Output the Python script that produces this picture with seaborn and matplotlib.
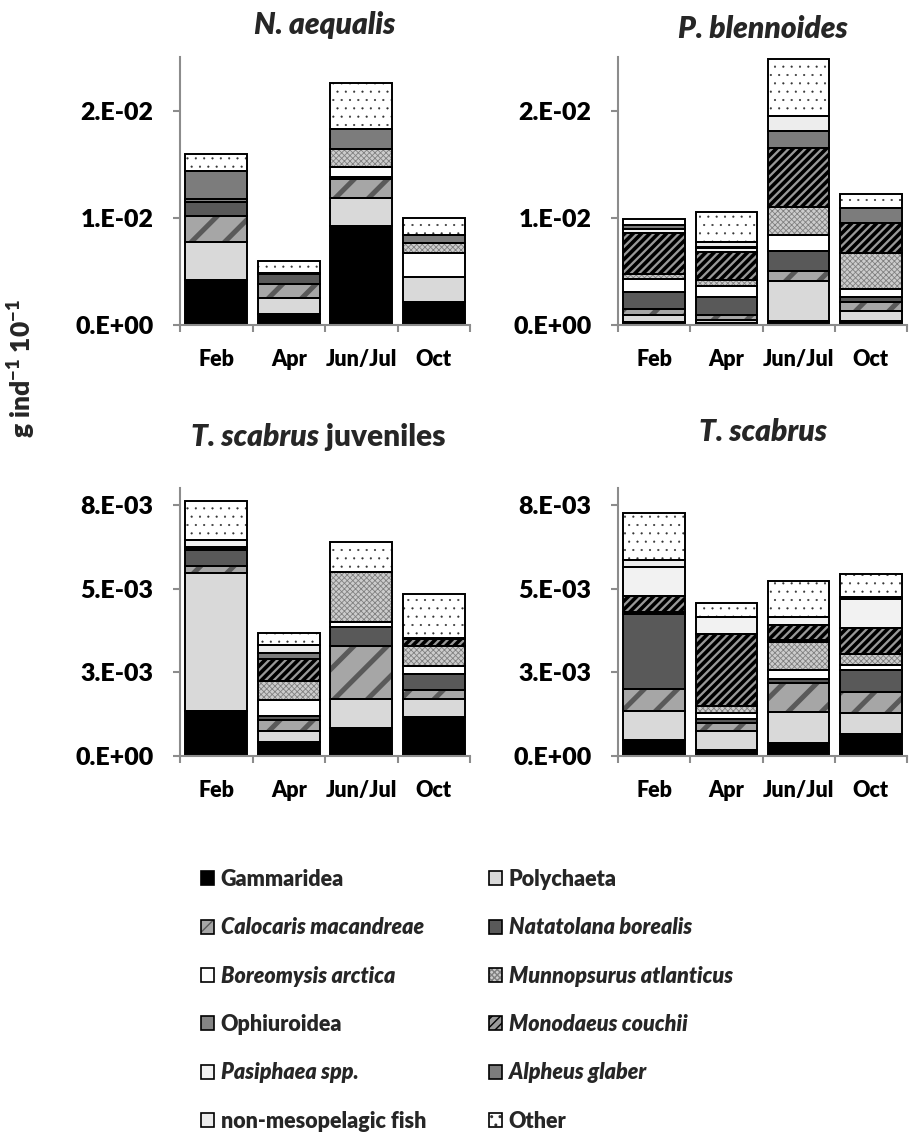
import matplotlib
matplotlib.use("Agg")
import matplotlib.pyplot as plt
import seaborn as sns
from matplotlib.patches import Patch

WEIGHT = "heavy"

sns.set_style("white")
plt.rcParams["font.family"] = ["Lato", "DejaVu Sans"]
plt.rcParams["font.weight"] = WEIGHT
plt.rcParams["mathtext.fontset"] = "custom"
plt.rcParams["mathtext.rm"] = "Lato:heavy"
plt.rcParams["mathtext.bf"] = "Lato:heavy"
plt.rcParams["mathtext.it"] = "Lato:heavy:italic"
plt.rcParams["hatch.linewidth"] = 1.0

# ---------------------------------------------------------------- data
months = ["Feb", "Apr", "Jun/Jul", "Oct"]

taxa = [
    "Gammaridea", "Polychaeta", "Calocaris macandreae", "Natatolana borealis",
    "Boreomysis arctica", "Munnopsurus atlanticus", "Ophiuroidea",
    "Monodaeus couchii", "Pasiphaea spp.", "Alpheus glaber",
    "non-mesopelagic fish", "Other",
]
italic_taxa = {
    "Calocaris macandreae", "Natatolana borealis", "Boreomysis arctica",
    "Munnopsurus atlanticus", "Monodaeus couchii", "Pasiphaea spp.",
    "Alpheus glaber",
}

# prey weight (g ind^-1 10^-1) per month, one list per prey group
n_aequalis = {
    "Gammaridea":             [0.00420, 0.00100, 0.00925, 0.00217],
    "Polychaeta":             [0.00356, 0.00155, 0.00261, 0.00227],
    "Calocaris macandreae":   [0.00243, 0.00124, 0.00174, 0.0],
    "Natatolana borealis":    [0.00130, 0.00096, 0.00020, 0.0],
    "Boreomysis arctica":     [0.0,     0.00010, 0.00095, 0.00230],
    "Munnopsurus atlanticus": [0.0,     0.0,     0.00170, 0.00093],
    "Ophiuroidea":            [0.00030, 0.0,     0.0,     0.0],
    "Monodaeus couchii":      [0.0,     0.0,     0.0,     0.0],
    "Pasiphaea spp.":         [0.0,     0.0,     0.0,     0.0],
    "Alpheus glaber":         [0.00260, 0.0,     0.00187, 0.00070],
    "non-mesopelagic fish":   [0.0,     0.0,     0.0,     0.0],
    "Other":                  [0.00155, 0.00111, 0.00426, 0.00157],
}

p_blennoides = {
    "Gammaridea":             [0.00025, 0.00015, 0.00040, 0.00040],
    "Polychaeta":             [0.00070, 0.00035, 0.00370, 0.00094],
    "Calocaris macandreae":   [0.00050, 0.00040, 0.00090, 0.00080],
    "Natatolana borealis":    [0.00160, 0.00170, 0.00188, 0.00050],
    "Boreomysis arctica":     [0.00120, 0.00100, 0.00152, 0.00070],
    "Munnopsurus atlanticus": [0.00054, 0.00060, 0.00260, 0.00340],
    "Ophiuroidea":            [0.0,     0.0,     0.0,     0.0],
    "Monodaeus couchii":      [0.00380, 0.00260, 0.00550, 0.00280],
    "Pasiphaea spp.":         [0.00040, 0.00040, 0.0,     0.0],
    "Alpheus glaber":         [0.00030, 0.00010, 0.00160, 0.00140],
    "non-mesopelagic fish":   [0.0,     0.00040, 0.00140, 0.0],
    "Other":                  [0.00060, 0.00286, 0.00530, 0.00130],
}

t_scabrus_juv = {
    "Gammaridea":             [0.00135, 0.00042, 0.00084, 0.00115],
    "Polychaeta":             [0.00412, 0.00033, 0.00087, 0.00056],
    "Calocaris macandreae":   [0.00020, 0.00032, 0.00158, 0.00025],
    "Natatolana borealis":    [0.00048, 0.00012, 0.00057, 0.00048],
    "Boreomysis arctica":     [0.00005, 0.00049, 0.00013, 0.00024],
    "Munnopsurus atlanticus": [0.0,     0.00056, 0.00149, 0.00060],
    "Ophiuroidea":            [0.00005, 0.0,     0.0,     0.0],
    "Monodaeus couchii":      [0.0,     0.00067, 0.0,     0.00020],
    "Pasiphaea spp.":         [0.00020, 0.0,     0.0,     0.0],
    "Alpheus glaber":         [0.0,     0.00015, 0.0,     0.00005],
    "non-mesopelagic fish":   [0.0,     0.00025, 0.0,     0.0],
    "Other":                  [0.00115, 0.00037, 0.00092, 0.00131],
}

t_scabrus = {
    "Gammaridea":             [0.00048, 0.00018, 0.00038, 0.00066],
    "Polychaeta":             [0.00085, 0.00058, 0.00092, 0.00062],
    "Calocaris macandreae":   [0.00066, 0.00024, 0.00089, 0.00064],
    "Natatolana borealis":    [0.00226, 0.00010, 0.00010, 0.00065],
    "Boreomysis arctica":     [0.0,     0.00018, 0.00028, 0.00015],
    "Munnopsurus atlanticus": [0.0,     0.00022, 0.00083, 0.00032],
    "Ophiuroidea":            [0.00005, 0.0,     0.00005, 0.0],
    "Monodaeus couchii":      [0.00049, 0.00214, 0.00045, 0.00078],
    "Pasiphaea spp.":         [0.00085, 0.00051, 0.00025, 0.00087],
    "Alpheus glaber":         [0.0,     0.0,     0.0,     0.00005],
    "non-mesopelagic fish":   [0.00022, 0.0,     0.0,     0.0],
    "Other":                  [0.00138, 0.00042, 0.00106, 0.00070],
}

ticks_large = [0.0, 0.01, 0.02]
ticklabels_large = ["0.E+00", "1.E-02", "2.E-02"]
ticks_small = [0.0, 0.0025, 0.005, 0.0075]
ticklabels_small = ["0.E+00", "3.E-03", "5.E-03", "8.E-03"]

# ---------------------------------------------------------------- styles
styles = {
    "Gammaridea":             dict(face="#000000", hatch=None),
    "Polychaeta":             dict(face="#d9d9d9", hatch=None),
    "Calocaris macandreae":   dict(face="#a6a6a6", hatch="/", hcolor="#595959", hlw=3.6),
    "Natatolana borealis":    dict(face="#595959", hatch=None),
    "Boreomysis arctica":     dict(face="#ffffff", hatch=None),
    "Munnopsurus atlanticus": dict(face="#cccccc", hatch="xxxxxx", hcolor="#808080", hlw=0.6),
    "Ophiuroidea":            dict(face="#848484", hatch=None),
    "Monodaeus couchii":      dict(face="#999999", hatch="////", hcolor="#000000", hlw=2.6),
    "Pasiphaea spp.":         dict(face="#f2f2f2", hatch=None),
    "Alpheus glaber":         dict(face="#7c7c7c", hatch=None),
    "non-mesopelagic fish":   dict(face="#ededed", hatch=None),
    "Other":                  dict(face="#ffffff", hatch="..", hcolor="#333333", hlw=0.3),
}

AXIS_GREY = "#8c8c8c"
BAR_W = 0.85
EDGE_LW = 1.4

W, H = 910, 1135
fig = plt.figure(figsize=(W / 100, H / 100), dpi=100)


def rect(left, top, right, bottom):
    return [left / W, 1 - bottom / H, (right - left) / W, (bottom - top) / H]


def draw_panel(ax, data, ymax, ticks, ticklabels):
    bottoms = [0.0] * len(months)
    segments = []
    for taxon in taxa:
        vals = data[taxon]
        st = styles[taxon]
        sns.barplot(x=months, y=vals, bottom=bottoms, color=st["face"],
                    width=BAR_W, saturation=1, errorbar=None, ax=ax)
        for p, v in zip(ax.containers[-1].patches, vals):
            p.set_facecolor(st["face"])
            p.set_linewidth(0)
            if st["hatch"]:
                p.set_edgecolor(st["hcolor"])
                p.set_hatch(st["hatch"])
                if hasattr(p, "set_hatch_linewidth"):
                    p.set_hatch_linewidth(st["hlw"])
            else:
                p.set_edgecolor("none")
            if v <= 0:
                p.set_visible(False)
        segments.append((vals, list(bottoms)))
        bottoms = [b + v for b, v in zip(bottoms, vals)]

    # black outlines on top of every segment
    for vals, bots in segments:
        sns.barplot(x=months, y=vals, bottom=bots, color="black", fill=False,
                    width=BAR_W, saturation=1, errorbar=None, ax=ax)
        for p, v in zip(ax.containers[-1].patches, vals):
            p.set_facecolor("none")
            p.set_edgecolor("black")
            p.set_linewidth(EDGE_LW)
            p.set_hatch(None)
            if v <= 0:
                p.set_visible(False)

    ax.set_xlim(-0.5, len(months) - 0.5)
    ax.set_ylim(0, ymax)
    ax.set_xlabel("")
    ax.set_ylabel("")
    ax.set_yticks(ticks)
    ax.set_yticklabels(ticklabels)
    ax.set_xticks(range(len(months)))
    ax.set_xticklabels(months)
    ax.set_xticks([i - 0.5 for i in range(len(months) + 1)], minor=True)
    sns.despine(ax=ax)
    for side in ("left", "bottom"):
        ax.spines[side].set_color(AXIS_GREY)
        ax.spines[side].set_linewidth(1.5)
    ax.tick_params(axis="y", length=5, width=1.5, color=AXIS_GREY, pad=14,
                   labelsize=18, labelcolor="black", left=True)
    ax.tick_params(axis="x", which="major", length=0, pad=17, labelsize=15.5,
                   labelcolor="black", bottom=True)
    ax.tick_params(axis="x", which="minor", length=5, width=1.5,
                   color=AXIS_GREY, bottom=True)
    for lab in ax.get_xticklabels() + ax.get_yticklabels():
        lab.set_fontweight(WEIGHT)
    ax.grid(False)


panels = [
    (rect(180, 57, 470, 325), n_aequalis, 0.025, ticks_large, ticklabels_large),
    (rect(618, 57, 907, 325), p_blennoides, 0.025, ticks_large, ticklabels_large),
    (rect(180, 488, 470, 756), t_scabrus_juv, 0.008, ticks_small, ticklabels_small),
    (rect(618, 488, 907, 756), t_scabrus, 0.008, ticks_small, ticklabels_small),
]
for r, data, ymax, ticks, labels in panels:
    ax = fig.add_axes(r)
    draw_panel(ax, data, ymax, ticks, labels)

# ---------------------------------------------------------------- titles
renderer = fig.canvas.get_renderer()


def title(xc, yc, parts, size=21.5):
    texts = []
    for s, style in parts:
        texts.append(fig.text(0, 1 - yc / H, s, fontsize=size, fontweight=WEIGHT,
                              fontstyle=style, ha="left", va="center"))
    widths = [t.get_window_extent(renderer).width for t in texts]
    x = xc - sum(widths) / 2
    for t, w in zip(texts, widths):
        t.set_x(x / W)
        x += w


title(325, 25, [("N. aequalis", "italic")])
title(763, 29, [("P. blennoides", "italic")])
title(318, 437, [("T. scabrus", "italic"), (" juveniles", "normal")])
title(763, 432, [("T. scabrus", "italic")])

fig.text(22 / W, 1 - 368 / H, r"g ind$^{-1}$ 10$^{-1}$", rotation=90,
         fontsize=19, fontweight=WEIGHT, ha="center", va="center")

# ---------------------------------------------------------------- legend


def handle(taxon):
    st = styles[taxon]
    if st["hatch"]:
        fill = Patch(facecolor=st["face"], edgecolor=st["hcolor"],
                     hatch=st["hatch"], linewidth=0)
        if hasattr(fill, "set_hatch_linewidth"):
            fill.set_hatch_linewidth(min(st["hlw"], 1.2))
        return (fill, Patch(facecolor="none", edgecolor="black", linewidth=1.2))
    return Patch(facecolor=st["face"], edgecolor="black", linewidth=1.2)


left_col = taxa[0::2]
right_col = taxa[1::2]
for col, x0 in ((left_col, 201), (right_col, 489)):
    leg = fig.legend([handle(t) for t in col], col, loc="upper left",
                     bbox_to_anchor=(x0 / W, 1 - 869 / H), frameon=False,
                     fontsize=15.5, borderpad=0, borderaxespad=0,
                     handlelength=0.62, handleheight=0.62, handletextpad=0.3,
                     labelspacing=1.27)
    for txt in leg.get_texts():
        txt.set_fontweight(WEIGHT)
        if txt.get_text() in italic_taxa:
            txt.set_fontstyle("italic")

fig.savefig("out.png", dpi=100)
